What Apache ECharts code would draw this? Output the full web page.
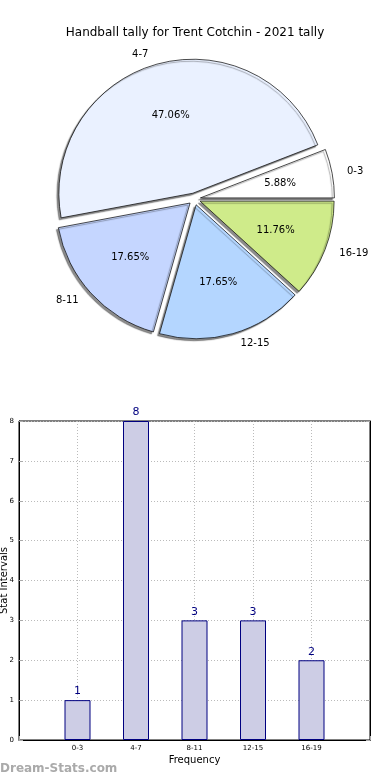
<!DOCTYPE html>
<html>
<head>
<meta charset="utf-8">
<script src="https://cdn.jsdelivr.net/npm/echarts@6/dist/echarts.min.js"></script>
<style>
html,body{margin:0;padding:0;background:#fff;}
#chart{width:390px;height:780px;}
</style>
</head>
<body>
<div id="chart"></div>
<script>
const titleText = 'Handball tally for Trent Cotchin - 2021 tally';
const categories = ['0-3', '4-7', '8-11', '12-15', '16-19'];
const tallies = [1, 8, 3, 3, 2];
const sliceColors = ['#ffffff', '#eaf1ff', '#c5d6ff', '#b4d6ff', '#cfeb8a'];
const yTicks = [0, 1, 2, 3, 4, 5, 6, 7, 8];
const yAxisTitle = 'Stat Intervals';
const xAxisTitle = 'Frequency';
const watermark = 'Dream-Stats.com';

const FONT = '"DejaVu Sans", sans-serif';
const chart = echarts.init(document.getElementById('chart'), null, {renderer: 'canvas'});

const pieData = categories.map((c, i) => ({
  name: c, value: tallies[i], selected: true,
  itemStyle: {color: sliceColors[i]}
}));
const pieLabelData = categories.map((c, i) => ({name: c, value: tallies[i], selected: true}));

const xCats = [''].concat(categories, ['']);
const barData = ['-'].concat(tallies, ['-']);

const option = {
  animation: false,
  backgroundColor: '#ffffff',
  title: {
    text: titleText, left: 'center', top: 22,
    textStyle: {fontFamily: FONT, fontSize: 12, fontWeight: 'normal', color: '#000'}
  },
  graphic: [{
    type: 'text', left: 0, top: 763,
    style: {text: watermark, fontFamily: FONT, fontSize: 12, fontWeight: 'bold', fill: '#aaaaaa'}
  }],
  grid: {left: 19, right: 20, top: 421, bottom: 40, show: true, borderColor: '#000', borderWidth: 1,
    containLabel: false, outerBoundsMode: 'none'},
  xAxis: {
    type: 'category', data: xCats, boundaryGap: false,
    name: xAxisTitle, nameLocation: 'middle', nameGap: 15, nameMoveOverlap: false,
    nameTextStyle: {fontFamily: FONT, fontSize: 10, color: '#000'},
    axisLine: {show: true, lineStyle: {color: '#000', width: 1}},
    axisTick: {show: true, inside: true, length: 4, lineStyle: {color: '#aaa'}},
    axisLabel: {fontFamily: FONT, fontSize: 7, color: '#000', margin: 5, interval: 0},
    splitLine: {show: true, interval: 0, lineStyle: {color: '#bbbbbb', type: [1, 2], width: 1}}
  },
  yAxis: [{
    type: 'value', min: 0, max: 8, interval: 1,
    name: yAxisTitle, nameLocation: 'middle', nameGap: 10, nameRotate: 90, nameMoveOverlap: false,
    nameTextStyle: {fontFamily: FONT, fontSize: 10, color: '#000'},
    axisLine: {show: true, lineStyle: {color: '#000', width: 1}},
    axisTick: {show: true, inside: true, length: 4, lineStyle: {color: '#aaa'}},
    axisLabel: {fontFamily: FONT, fontSize: 7, color: '#000', margin: 5,
      formatter: v => (yTicks.indexOf(v) >= 0 ? String(v) : '')},
    splitLine: {show: true, lineStyle: {color: '#bbbbbb', type: [1, 2], width: 1}}
  }, {
    type: 'value', min: 0, max: 8, interval: 1, position: 'right',
    axisLine: {show: true, lineStyle: {color: '#000', width: 1}},
    axisTick: {show: true, inside: true, length: 4, lineStyle: {color: '#aaa'}},
    axisLabel: {show: false}, splitLine: {show: false}
  }],
  series: [
    {
      type: 'pie', center: [194.5, 199], radius: 134,
      startAngle: 0, clockwise: false,
      selectedMode: 'multiple', selectedOffset: 6,
      avoidLabelOverlap: false,
      itemStyle: {borderColor: '#000', borderWidth: 0.7,
        shadowColor: 'rgba(0,0,0,0.45)', shadowBlur: 1, shadowOffsetX: -2, shadowOffsetY: 2},
      label: {show: true, position: 'outside', formatter: '{b}', distance: 3,
        fontFamily: FONT, fontSize: 10, color: '#000'},
      labelLine: {show: false, length: 10, length2: 0},
      emphasis: {disabled: true},
      select: {itemStyle: {borderColor: '#000', borderWidth: 0.7}},
      data: pieData
    },
    {
      type: 'pie', center: [194.5, 199], radius: 156,
      startAngle: 0, clockwise: false, silent: true,
      selectedMode: 'multiple', selectedOffset: 6,
      avoidLabelOverlap: false,
      itemStyle: {color: 'rgba(0,0,0,0)', borderWidth: 0},
      label: {show: true, position: 'inner', formatter: '{d}%',
        fontFamily: FONT, fontSize: 10, color: '#000'},
      labelLine: {show: false},
      emphasis: {disabled: true},
      data: pieLabelData
    },
    {
      type: 'bar', data: barData, barWidth: 26,
      itemStyle: {color: '#cdcde5', borderColor: '#000080', borderWidth: 1},
      label: {show: true, position: 'top', distance: 3,
        fontFamily: FONT, fontSize: 11, color: '#000080'},
      emphasis: {disabled: true}
    }
  ]
};
chart.setOption(option);
</script>
</body>
</html>
